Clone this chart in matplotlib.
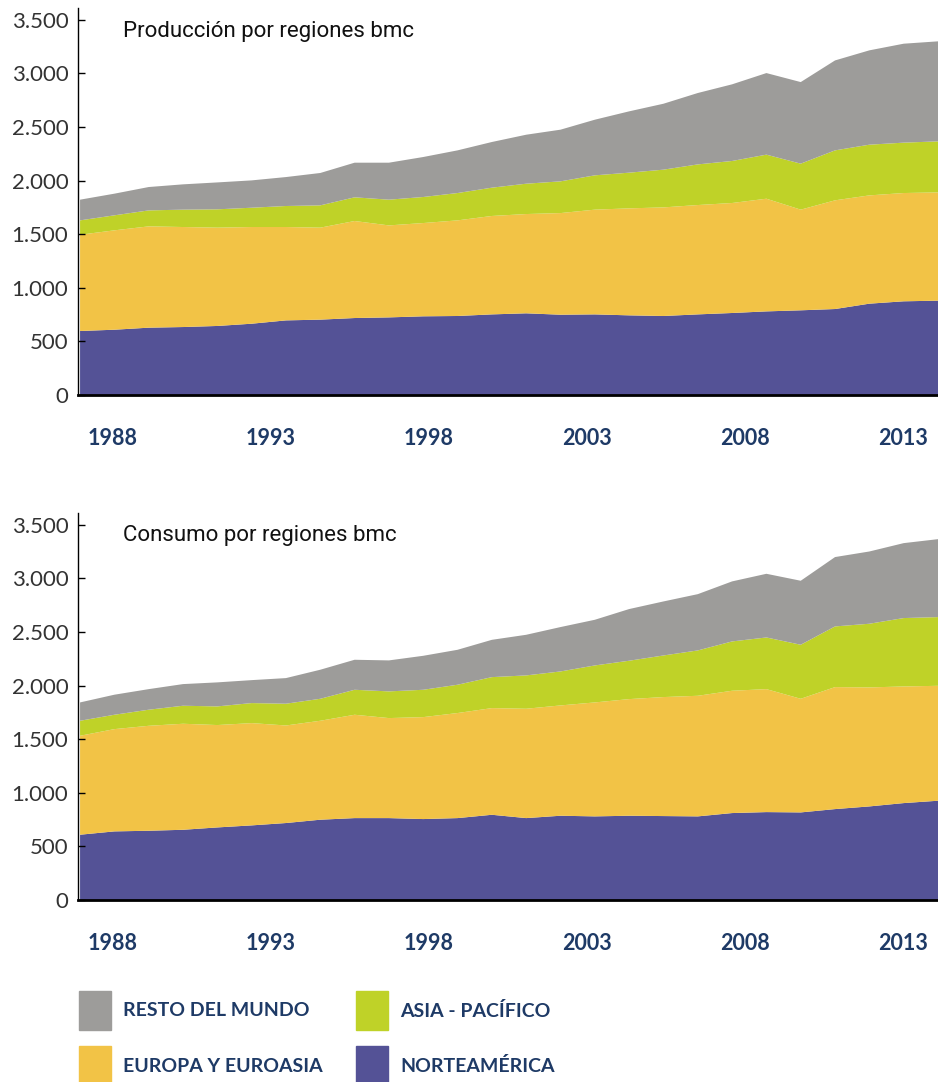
import numpy as np
import matplotlib.pyplot as plt
from matplotlib.patches import Rectangle

# data (bmc)
years = np.arange(1988, 2014)

prod_norteamerica = [597, 609, 628, 634, 644, 665, 696, 703, 718, 724, 734, 737, 752,
                     762, 749, 752, 743, 737, 752, 765, 780, 790, 802, 852, 874, 880]
prod_europa = [898, 927, 945, 933, 917, 902, 871, 858, 905, 858, 870, 892, 918,
               926, 948, 977, 998, 1013, 1020, 1026, 1051, 939, 1014, 1010, 1010, 1010]
prod_asia = [134, 140, 149, 162, 171, 180, 196, 208, 221, 240, 243, 255, 264,
             283, 296, 320, 333, 352, 379, 392, 411, 429, 466, 473, 470, 476]
prod_resto = [193, 202, 218, 236, 251, 255, 270, 302, 323, 345, 373, 398, 426,
              457, 482, 519, 572, 615, 666, 715, 761, 761, 839, 880, 923, 933]

cons_norteamerica = [609, 640, 646, 655, 677, 696, 718, 749, 764, 764, 755, 764, 795,
                     764, 786, 780, 786, 783, 780, 811, 820, 817, 848, 873, 904, 926]
cons_europa = [923, 954, 979, 989, 955, 954, 910, 923, 964, 933, 951, 980, 995,
               1020, 1029, 1063, 1088, 1110, 1125, 1141, 1147, 1060, 1138, 1110, 1088, 1072]
cons_asia = [140, 134, 150, 168, 174, 187, 203, 205, 233, 249, 255, 264, 289,
             311, 317, 345, 358, 388, 423, 460, 482, 504, 566, 594, 638, 641]
cons_resto = [171, 187, 192, 202, 224, 214, 239, 271, 280, 289, 317, 326, 348,
              379, 414, 426, 482, 504, 525, 560, 594, 597, 647, 674, 699, 727]

region_names = ['NORTEAMÉRICA', 'EUROPA Y EUROASIA', 'ASIA - PACÍFICO', 'RESTO DEL MUNDO']
region_colors = ['#545296', '#f2c346', '#bfd228', '#9d9c9a']

yticks = [0, 500, 1000, 1500, 2000, 2500, 3000, 3500]
ytick_labels = ['0', '500', '1.000', '1.500', '2.000', '2.500', '3.000', '3.500']
xtick_pos = [1988.95, 1993.56, 1998.17, 2002.77, 2007.39, 2011.99]
xtick_labels = ['1988', '1993', '1998', '2003', '2008', '2013']

navy = '#1e3a66'
W, H = 938, 1082


def draw_panel(ax, series, title, title_y):
    ax.stackplot(years, *series, colors=region_colors, linewidth=0)
    ax.set_xlim(1987.94, 2013)
    ax.set_ylim(0, 3610)

    for s in ['top', 'right']:
        ax.spines[s].set_visible(False)
    ax.spines['left'].set_linewidth(1.0)
    ax.spines['bottom'].set_linewidth(2.0)

    ax.set_yticks(yticks, ytick_labels)
    ax.tick_params(axis='y', direction='in', length=5, width=1.0, pad=7,
                   labelsize=16, labelcolor='#333333')
    for lab in ax.get_yticklabels():
        lab.set_family('Lato')

    ax.set_xticks(xtick_pos, xtick_labels)
    ax.tick_params(axis='x', length=0, pad=24, labelsize=15.5, labelcolor=navy)
    for lab in ax.get_xticklabels():
        lab.set_family('Lato')
        lab.set_fontweight('bold')

    fig.text(123 / W, 1 - title_y / H, title, fontsize=16, va='baseline',
             family='Roboto', color='#111111')


fig = plt.figure(figsize=(W / 100, H / 100), dpi=100)

ax1 = fig.add_axes([78 / W, 1 - 395 / H, 860 / W, 387 / H])
draw_panel(ax1, [prod_norteamerica, prod_europa, prod_asia, prod_resto],
           'Producción por regiones bmc', 37)

ax2 = fig.add_axes([78 / W, 1 - 900 / H, 860 / W, 387 / H])
draw_panel(ax2, [cons_norteamerica, cons_europa, cons_asia, cons_resto],
           'Consumo por regiones bmc', 541)

# legend: two columns, resto/asia on top, europa/norteamerica below
legend_items = [(3, 79, 991), (2, 356, 991), (1, 79, 1046), (0, 356, 1046)]
for idx, px, py in legend_items:
    fig.patches.append(Rectangle((px / W, 1 - (py + 39) / H), 32 / W, 39 / H,
                                 transform=fig.transFigure, color=region_colors[idx]))
    fig.text((px + 44) / W, 1 - (py + 20) / H, region_names[idx], fontsize=14,
             family='Lato', fontweight='bold', color=navy, va='center')

fig.savefig('out.png', dpi=100)
